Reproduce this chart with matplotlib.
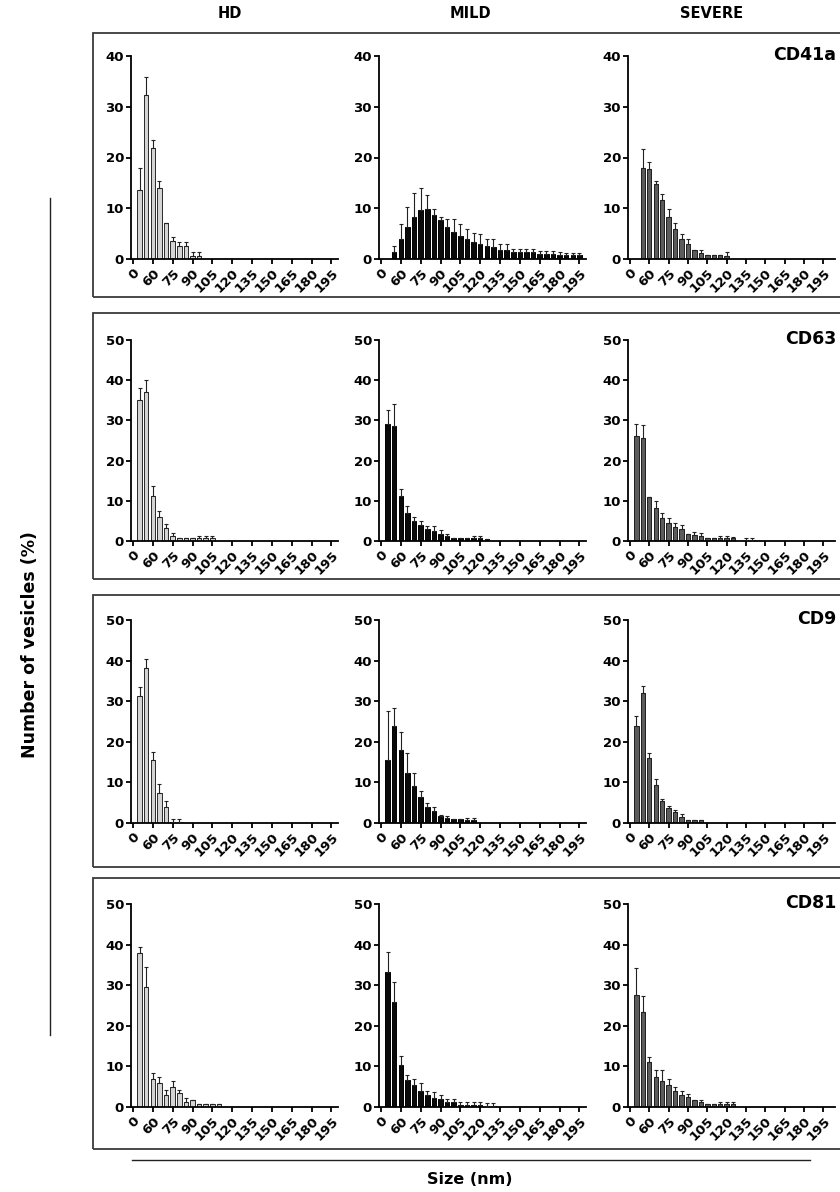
import matplotlib
matplotlib.use('Agg')
import matplotlib.pyplot as plt
from matplotlib.patches import Rectangle
from matplotlib.lines import Line2D
import numpy as np

# size bins (5 nm each), tick labels every 3rd bin
tick_pos = [0, 3, 6, 9, 12, 15, 18, 21, 24, 27, 30]
tick_labels = ['0', '60', '75', '90', '105', '120', '135', '150', '165', '180', '195']

groups = ['HD', 'MILD', 'SEVERE']
markers = ['CD41a', 'CD63', 'CD9', 'CD81']
ymax = [40, 50, 50, 50]

# mean and top of the error bar, first value sits at bin "start"
hd_cd41a = [13.6, 32.3, 21.8, 13.9, 7.1, 3.5, 2.5, 2.5, 0.5, 0.5]
hd_cd41a_hi = [18.0, 35.9, 23.4, 15.4, 7.1, 4.3, 3.3, 3.3, 1.3, 1.3]
mild_cd41a = [1.3, 4.0, 6.3, 8.2, 9.6, 9.9, 8.7, 7.6, 6.4, 5.3, 4.6, 4.0, 3.3, 3.0, 2.5,
              2.3, 1.7, 1.7, 1.3, 1.3, 1.3, 1.3, 1.0, 1.0, 1.0, 0.8, 0.7, 0.7, 0.7]
mild_cd41a_hi = [2.5, 6.8, 10.2, 13.0, 13.9, 12.7, 9.9, 8.3, 7.9, 7.8, 6.9, 5.9, 5.1, 5.0, 4.0,
                 4.0, 2.9, 2.9, 2.0, 2.0, 2.0, 2.0, 1.5, 1.5, 1.5, 1.3, 1.2, 1.2, 1.2]
severe_cd41a = [18.0, 17.7, 14.7, 11.7, 8.3, 6.0, 4.0, 3.0, 1.8, 1.2, 0.8, 0.8, 0.8, 0.5]
severe_cd41a_hi = [21.7, 19.2, 15.3, 12.8, 9.9, 7.0, 5.0, 4.0, 1.8, 1.8, 0.8, 0.8, 0.8, 1.3]

hd_cd63 = [35.0, 37.0, 11.3, 6.0, 3.3, 1.3, 0.8, 0.8, 0.8, 0.8, 0.8, 0.8]
hd_cd63_hi = [38.0, 40.0, 13.6, 7.4, 4.2, 2.0, 0.8, 0.8, 0.8, 1.2, 1.2, 1.2]
mild_cd63 = [29.0, 28.7, 11.3, 7.0, 5.0, 4.0, 3.0, 2.6, 1.8, 1.3, 0.8, 0.8, 0.8, 0.7, 0.7, 0.6]
mild_cd63_hi = [32.5, 34.2, 13.0, 8.8, 6.0, 5.0, 3.8, 3.7, 2.8, 1.8, 0.8, 0.8, 0.8, 1.2, 1.2, 0.6]
severe_cd63 = [26.0, 25.6, 10.9, 8.3, 5.7, 4.5, 3.6, 3.0, 1.8, 1.6, 1.2, 0.8, 0.8, 0.8, 0.8,
               0.7, 0.0, 0.3, 0.3]
severe_cd63_hi = [29.0, 28.8, 10.9, 10.0, 7.0, 5.8, 4.4, 4.0, 1.8, 2.3, 2.0, 0.8, 0.8, 1.2, 1.2,
                  1.0, 0.0, 0.8, 0.8]

hd_cd9 = [31.3, 38.3, 15.5, 7.4, 4.0, 0.3, 0.3]
hd_cd9_hi = [33.5, 40.5, 17.5, 9.5, 5.3, 1.0, 1.0]
mild_cd9 = [15.5, 24.0, 18.0, 12.2, 9.0, 6.5, 4.0, 3.0, 1.8, 1.3, 0.9, 0.9, 0.8, 0.8]
mild_cd9_hi = [27.5, 28.3, 22.3, 17.2, 12.2, 8.0, 5.0, 4.0, 2.0, 1.8, 0.9, 0.9, 1.2, 1.2]
severe_cd9 = [23.8, 32.0, 16.0, 9.3, 5.3, 3.8, 2.7, 1.6, 0.8, 0.8, 0.8]
severe_cd9_hi = [26.3, 33.8, 17.2, 10.8, 6.0, 4.3, 3.3, 2.3, 0.8, 0.8, 0.8]

hd_cd81 = [38.0, 29.5, 7.0, 6.0, 3.0, 5.0, 3.4, 1.3, 1.8, 0.8, 0.8, 0.8, 0.8]
hd_cd81_hi = [39.5, 34.5, 8.4, 7.3, 4.3, 6.3, 4.2, 2.1, 1.8, 0.8, 0.8, 0.8, 0.8]
mild_cd81 = [33.3, 25.8, 10.3, 6.7, 5.3, 4.0, 3.0, 2.3, 1.9, 1.2, 1.2, 0.6, 0.6, 0.6, 0.6, 0.3, 0.3]
mild_cd81_hi = [38.2, 30.8, 12.6, 7.8, 7.0, 6.0, 4.0, 3.8, 3.0, 2.0, 2.0, 1.3, 1.3, 1.3, 1.2, 0.9, 0.9]
severe_cd81 = [27.7, 23.3, 11.0, 7.5, 6.3, 5.3, 4.0, 3.0, 2.5, 1.8, 1.2, 0.8, 0.8, 0.8, 0.8, 0.8]
severe_cd81_hi = [34.3, 27.3, 12.2, 9.0, 9.0, 6.8, 5.0, 4.0, 3.2, 1.8, 1.8, 0.8, 0.8, 1.2, 1.2, 1.2]

panels = [
    [(hd_cd41a, hd_cd41a_hi, 1), (mild_cd41a, mild_cd41a_hi, 2), (severe_cd41a, severe_cd41a_hi, 2)],
    [(hd_cd63, hd_cd63_hi, 1), (mild_cd63, mild_cd63_hi, 1), (severe_cd63, severe_cd63_hi, 1)],
    [(hd_cd9, hd_cd9_hi, 1), (mild_cd9, mild_cd9_hi, 1), (severe_cd9, severe_cd9_hi, 1)],
    [(hd_cd81, hd_cd81_hi, 1), (mild_cd81, mild_cd81_hi, 1), (severe_cd81, severe_cd81_hi, 1)],
]

face = ['#d4d4d4', '#0a0a0a', '#5c5c5c']
edge = ['#2a2a2a', '#000000', '#1e1e1e']

W, H = 840, 1192
fig = plt.figure(figsize=(W / 100, H / 100), dpi=100)
plt.rcParams['font.family'] = 'DejaVu Sans'
plt.rcParams['font.weight'] = 'bold'


def fx(px):
    return px / W


def fy(py):
    return 1 - py / H


# pixel layout
col_left = [131, 379, 628]
ax_w = 207
row_top = [56, 340, 620, 904]
row_zero = [259, 541, 823, 1107]
box_top = [33, 313, 595, 878]
box_bot = [297, 579, 867, 1149]

for r in range(4):
    fig.patches.append(Rectangle((fx(93), fy(box_bot[r])), fx(760), (box_bot[r] - box_top[r]) / H,
                                 transform=fig.transFigure, fill=False,
                                 edgecolor='#3a3a3a', linewidth=1.3))
    for c in range(3):
        vals, hi, start = panels[r][c]
        x = np.arange(start, start + len(vals))
        vals = np.array(vals)
        err = np.array(hi) - vals
        ax = fig.add_axes([fx(col_left[c]), fy(row_zero[r]), fx(ax_w),
                           (row_zero[r] - row_top[r]) / H])
        ax.bar(x, vals, width=0.68, color=face[c], edgecolor=edge[c], linewidth=0.7, zorder=2)
        ax.errorbar(x, vals, yerr=[np.zeros_like(err), err], fmt='none', ecolor='#222222',
                    elinewidth=0.8, capsize=1.6, capthick=0.8, zorder=3)
        ax.set_xlim(-0.3, 31.0 if c < 2 else 31.8)
        ax.set_ylim(0, ymax[r])
        ax.set_yticks(np.arange(0, ymax[r] + 1, 10))
        ax.set_xticks(tick_pos)
        ax.set_xticklabels(tick_labels, rotation=45, ha='right', va='top',
                           rotation_mode='anchor')
        ax.tick_params(axis='both', labelsize=9.5, width=1.3, length=3.5, pad=1.5)
        ax.tick_params(axis='x', pad=2)
        for lab in ax.get_xticklabels() + ax.get_yticklabels():
            lab.set_fontweight('bold')
        ax.spines['top'].set_visible(False)
        ax.spines['right'].set_visible(False)
        ax.spines['left'].set_linewidth(1.3)
        ax.spines['bottom'].set_linewidth(1.3)
        ax.patch.set_alpha(0)
    fig.text(fx(836), fy(row_top[r] - 1), markers[r], ha='right', va='center',
             fontsize=12.5, fontweight='bold')

header_x = [230, 470, 712]
for c, g in enumerate(groups):
    fig.text(fx(header_x[c]), fy(13), g, ha='center', va='center',
             fontsize=10.5, fontweight='bold')

fig.text(fx(30), fy(645), 'Number of vesicles (%)', rotation=90, ha='center', va='center',
         fontsize=12.5, fontweight='bold')
fig.add_artist(Line2D([fx(50), fx(50)], [fy(198), fy(1035)], color='#222222', linewidth=1.0))
fig.add_artist(Line2D([fx(132), fx(810)], [fy(1160), fy(1160)], color='#222222', linewidth=1.0))
fig.text(fx(470), fy(1180), 'Size (nm)', ha='center', va='center', fontsize=11.5,
         fontweight='bold')

fig.savefig('out.png', dpi=100)
